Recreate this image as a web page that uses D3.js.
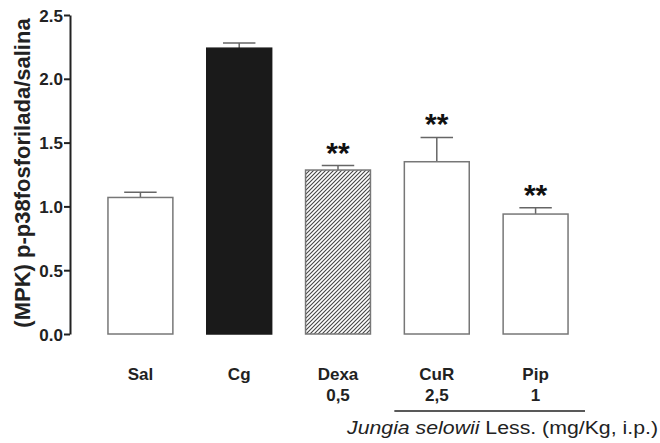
<!DOCTYPE html>
<html><head><meta charset="utf-8">
<script src="https://cdn.jsdelivr.net/npm/d3@7"></script>
<style>body{margin:0;background:#fff}svg{display:block}text{font-family:"Liberation Sans",Arial,sans-serif}</style>
</head><body>
<script>
const categories = ["Sal","Cg","Dexa","CuR","Pip"];
const means = [1.07, 2.24, 1.285, 1.35, 0.94];
const sems = [0.04, 0.04, 0.035, 0.19, 0.05];
const doses = ["", "", "0,5", "2,5", "1"];
const stars = ["", "", "**", "**", "**"];
const fills = ["white", "black", "hatch", "white", "white"];
const yTicks = [0.0, 0.5, 1.0, 1.5, 2.0, 2.5];

const W = 660, H = 443;
const svg = d3.select("body").append("svg").attr("width", W).attr("height", H);
const defs = svg.append("defs");
const pat = defs.append("pattern").attr("id","hatch").attr("patternUnits","userSpaceOnUse")
  .attr("width",4).attr("height",4);
pat.append("rect").attr("width",4).attr("height",4).attr("fill","#fff");
pat.append("path").attr("d","M-1,1 l2,-2 M0,4 l4,-4 M3,5 l2,-2").attr("stroke","#444").attr("stroke-width",1.1);

const y = d3.scaleLinear().domain([0, 2.5]).range([334, 15]);
const x = d3.scaleBand().domain(categories).range([91, 585]).paddingInner(0.343).paddingOuter(0.1717);

// y axis
const ax = svg.append("g").attr("transform","translate(70,0)")
  .call(d3.axisLeft(y).tickValues(yTicks).tickFormat(d3.format(".1f")).tickSize(6).tickSizeOuter(0));
ax.select(".domain").attr("stroke","#222").attr("stroke-width",2);
ax.selectAll(".tick line").attr("stroke","#222").attr("stroke-width",2);
ax.selectAll(".tick text").attr("font-size",17).attr("font-weight","bold").attr("fill","#222").attr("x",-7).attr("dy","0.36em");

svg.append("text").attr("transform","translate(30,173) rotate(-90)").attr("text-anchor","middle")
  .attr("font-size",22).attr("font-weight","bold").attr("fill","#222").text("(MPK) p-p38fosforilada/salina");

const data = categories.map((c,i)=>({c, m:means[i], s:sems[i], f:fills[i], st:stars[i], d:doses[i]}));

// error bars
const eb = svg.append("g");
data.forEach(d=>{
  const cx = x(d.c) + x.bandwidth()/2;
  eb.append("line").attr("x1",cx).attr("x2",cx).attr("y1",y(d.m)).attr("y2",y(d.m+d.s)).attr("stroke","#666").attr("stroke-width",1.5);
  eb.append("line").attr("x1",cx - x.bandwidth()/4).attr("x2",cx + x.bandwidth()/4).attr("y1",y(d.m+d.s)).attr("y2",y(d.m+d.s)).attr("stroke","#666").attr("stroke-width",1.5);
});

svg.append("g").selectAll("rect").data(data).join("rect")
  .attr("x", d=>x(d.c)).attr("width", x.bandwidth())
  .attr("y", d=>y(d.m)).attr("height", d=>y(0)-y(d.m))
  .attr("fill", d=> d.f==="black" ? "#1a1a1a" : d.f==="hatch" ? "url(#hatch)" : "#fff")
  .attr("stroke", d=> d.f==="black" ? "#1a1a1a" : "#777").attr("stroke-width",1.5);

svg.append("g").selectAll("text").data(data.filter(d=>d.st)).join("text")
  .attr("x", d=>x(d.c)+x.bandwidth()/2).attr("y", d=>y(d.m+d.s)-3)
  .attr("text-anchor","middle").attr("font-size",30).attr("font-weight","bold").attr("fill","#111").text(d=>d.st);

svg.append("g").selectAll("text").data(data).join("text")
  .attr("x", d=>x(d.c)+x.bandwidth()/2).attr("y", 380)
  .attr("text-anchor","middle").attr("font-size",17).attr("font-weight","bold").attr("fill","#222").text(d=>d.c);

svg.append("g").selectAll("text").data(data.filter(d=>d.d)).join("text")
  .attr("x", d=>x(d.c)+x.bandwidth()/2).attr("y", 401)
  .attr("text-anchor","middle").attr("font-size",17).attr("font-weight","bold").attr("fill","#222").text(d=>d.d);

svg.append("line").attr("x1", x("CuR")-10).attr("x2", x("Pip")+x.bandwidth()+17).attr("y1",411).attr("y2",411)
  .attr("stroke","#222").attr("stroke-width",1.3);

const t = svg.append("text").attr("x",347).attr("y",434).attr("font-size",18).attr("fill","#222")
  .attr("textLength",311).attr("lengthAdjust","spacingAndGlyphs");
t.append("tspan").attr("font-style","italic").text("Jungia selowii");
t.append("tspan").text(" Less. (mg/Kg, i.p.)");
</script>
</body></html>
